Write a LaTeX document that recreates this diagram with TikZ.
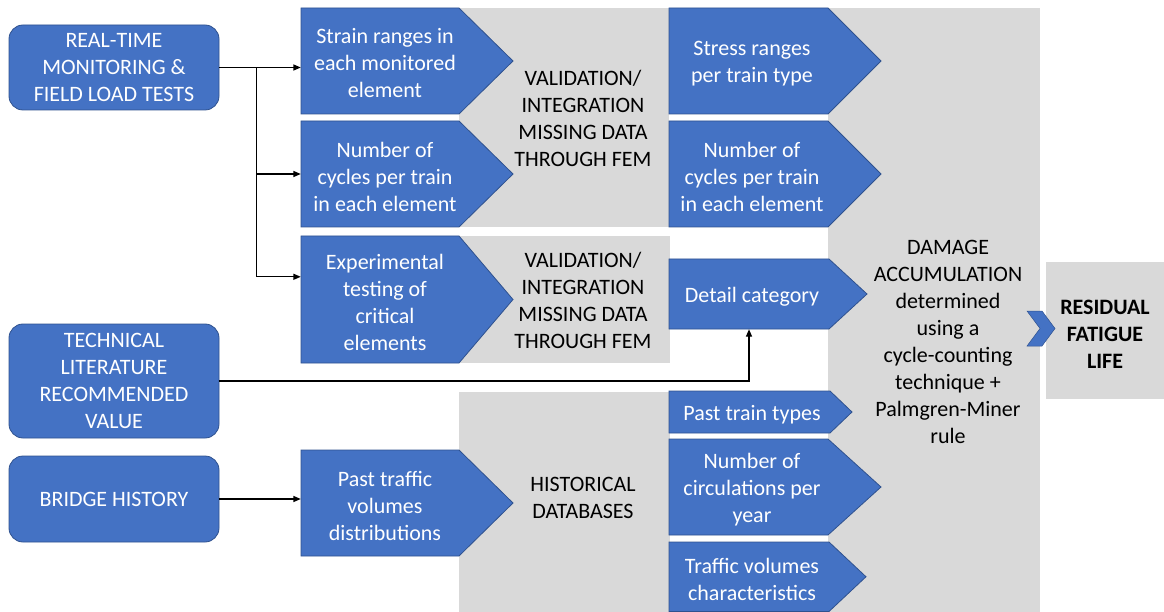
\documentclass[tikz,border=0pt]{standalone}
\usepackage{fontspec}
\setmainfont{Carlito}
\usetikzlibrary{fit,arrows.meta,calc}
\definecolor{bblue}{HTML}{4472C4}
\definecolor{bedge}{HTML}{2F528F}
\definecolor{gfill}{HTML}{D9D9D9}
\tikzset{
  src/.style={draw=bedge, line width=0.8pt, fill=bblue, rounded corners=14pt, text=white, align=center, font=\fontsize{22}{27}\selectfont, inner sep=0pt},
  pshape/.style={draw=bedge, line width=0.8pt, fill=bblue},
  ptext/.style={text=white, align=center, font=\fontsize{22}{27}\selectfont, inner sep=0pt},
  gtext/.style={text=black, align=center, font=\fontsize{22}{27}\selectfont, inner sep=0pt},
  greybg/.style={fill=gfill, draw=none},
  conn/.style={line width=1.4pt, -{Triangle[length=7.5pt,width=6pt]}},
  plain/.style={line width=1.4pt}
}
\newcommand{\pentbox}[8]{%
  \draw[pshape] (#2,#3) -- (#4,#3) -- (#6,{(#3+#5)/2}) -- (#4,#5) -- (#2,#5) -- cycle;
  \coordinate (#1-a) at (#2,#3);
  \coordinate (#1-b) at (#4,#5);
  \node[fit=(#1-a)(#1-b), inner sep=0pt] (#1) {};
  \node[ptext] (#1-t) at (#7,{(#3+#5)/2+2.5}) {#8};
}
\begin{document}
\begin{tikzpicture}[x=1pt,y=-1pt]
\useasboundingbox (0,0) rectangle (1164,612);
% grey backgrounds
\fill[greybg] (459,8) rectangle (669,227);
\fill[greybg] (459,236) rectangle (670,363);
\fill[greybg] (459,392) rectangle (670,612);
\fill[greybg] (828,8) rectangle (1040,612);
\fill[greybg] (1046,262) rectangle (1164,399);
% source boxes
\node[src, minimum width=210pt, minimum height=85pt] (rt) at (114,67.5) {REAL-TIME\\MONITORING \&\\FIELD LOAD TESTS};
\node[src, minimum width=210pt, minimum height=114pt] (tech) at (114,381) {TECHNICAL\\LITERATURE\\RECOMMENDED\\VALUE};
\node[src, minimum width=210pt, minimum height=86pt] (bh) at (114,499) {BRIDGE HISTORY};
% first column
\pentbox{strain}{301}{8}{459}{114}{513}{385}{Strain ranges in\\each monitored\\element}
\pentbox{cyca}{301}{121}{459}{227}{513}{385}{Number of\\cycles per train\\in each element}
\pentbox{expt}{301}{236}{459}{363}{513}{385}{Experimental\\testing of\\critical\\elements}
\pentbox{ptraf}{301}{450}{459}{556}{513}{385}{Past traffic\\volumes\\distributions}
% second column
\pentbox{stress}{669}{8}{828}{114}{881}{752}{Stress ranges\\per train type}
\pentbox{cycb}{669}{121}{828}{227}{881}{752}{Number of\\cycles per train\\in each element}
\pentbox{detail}{669}{259}{829}{329}{867}{752}{Detail category}
\pentbox{ptt}{669}{391}{830}{433}{852}{752}{Past train types}
\pentbox{circ}{669}{439}{828}{535}{881}{752}{Number of\\circulations per\\year}
\pentbox{trv}{669}{542}{829}{611.5}{866}{752}{Traffic volumes\\characteristics}
% grey texts
\node[gtext] (vala) at (583,118) {VALIDATION/\\INTEGRATION\\MISSING DATA\\THROUGH FEM};
\node[gtext] (valb) at (583,300) {VALIDATION/\\INTEGRATION\\MISSING DATA\\THROUGH FEM};
\node[gtext] (hist) at (583,498) {HISTORICAL\\DATABASES};
\node[gtext] (dmg) at (948,342) {DAMAGE\\ACCUMULATION\\determined\\using a\\cycle-counting\\technique +\\Palmgren-Miner\\rule};
\node[gtext, font=\fontsize{22}{27}\selectfont\bfseries] (res) at (1105,334) {RESIDUAL\\FATIGUE\\LIFE};
% chevron
\draw[pshape, line width=0.5pt] (1027,311) -- (1042,311) -- (1055,328.5) -- (1042,346) -- (1027,346) -- (1040,328.5) -- cycle;
% connectors
\coordinate (j) at ($(rt.east)+(37,0)$);
\draw[conn] (rt.east) -- (strain.west |- rt.east);
\draw[conn] (j) |- (cyca.west);
\draw[conn] (j) |- ($(expt.north west)+(0,41)$);
\draw[conn] (tech.east) -| (detail.south);
\draw[conn] (bh.east) -- (ptraf.west |- bh.east);
\end{tikzpicture}
\end{document}
